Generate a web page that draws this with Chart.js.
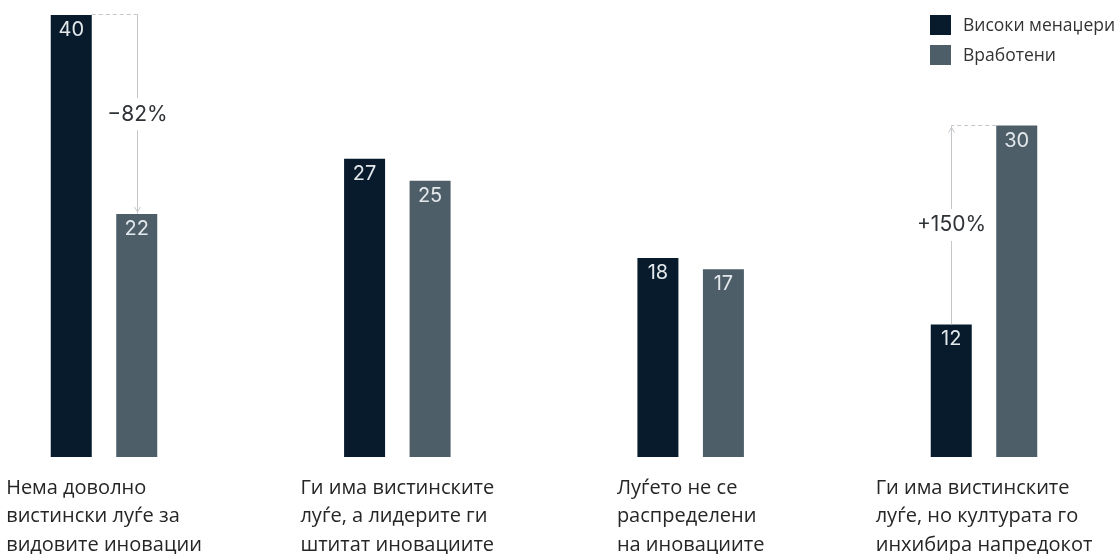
<!DOCTYPE html>
<html>
<head>
<meta charset="utf-8">
<script src="https://cdn.jsdelivr.net/npm/chart.js@4.4.1/dist/chart.umd.min.js"></script>
<style>
  html, body { margin: 0; padding: 0; background: #ffffff; }
  #wrap { width: 1118px; height: 554px; position: relative; }
</style>
</head>
<body>
<div id="wrap"><canvas id="c"></canvas></div>
<script>
// ---- data ----
const categories = [
  ['Нема доволно', 'вистински луѓе за', 'видовите иновации'],
  ['Ги има вистинските', 'луѓе, а лидерите ги', 'штитат иновациите'],
  ['Луѓето не се', 'распределени', 'на иновациите'],
  ['Ги има вистинските', 'луѓе, но културата го', 'инхибира напредокот']
];
const seriesNames = ['Високи менаџери', 'Вработени'];
const seniorManagers = [40, 27, 18, 12];
const employees = [22, 25, 17, 30];
const changeNoteCategories = [0, 3];
const changeNoteTexts = ['−82%', '+150%'];

const COLORS = ['#071b2c', '#4e5e69'];
const NUM_FONT = '"Inter", "Liberation Sans", Arial, sans-serif';
const TEXT_FONT = '"Open Sans", "Noto Sans", sans-serif';

// value labels inside bars, annotations, category labels, legend
const decorPlugin = {
  id: 'decor',
  afterDatasetsDraw(chart) {
    const ctx = chart.ctx;
    const metas = [chart.getDatasetMeta(0), chart.getDatasetMeta(1)];
    ctx.save();

    // value labels
    ctx.font = '400 20px ' + NUM_FONT;
    ctx.fillStyle = '#e3e8ec';
    ctx.textAlign = 'center';
    ctx.textBaseline = 'middle';
    metas.forEach((meta, di) => {
      meta.data.forEach((bar, i) => {
        const v = chart.data.datasets[di].data[i];
        ctx.fillText(String(v), bar.x, bar.y + 15);
      });
    });

    // change annotations
    changeNoteCategories.forEach((ci, k) => {
      const a = metas[0].data[ci];
      const b = metas[1].data[ci];
      const va = chart.data.datasets[0].data[ci];
      const vb = chart.data.datasets[1].data[ci];
      const high = va >= vb ? a : b;
      const low = va >= vb ? b : a;
      const lineX = Math.round(low.x) + 0.5;
      const topY = Math.round(high.y) - 0.5;
      const botY = low.y;
      const targetY = b.y; // arrow points to employees' value
      const edgeX = high.x < low.x ? high.x + high.width / 2 : high.x - high.width / 2;

      ctx.strokeStyle = '#c4c7ca';
      ctx.lineWidth = 1;
      // dashed connector
      ctx.setLineDash([4, 3]);
      ctx.beginPath();
      ctx.moveTo(edgeX, topY);
      ctx.lineTo(lineX, topY);
      ctx.stroke();
      ctx.setLineDash([]);

      const midY = (topY + botY) / 2;
      const gap = 16;
      ctx.beginPath();
      ctx.moveTo(lineX, topY);
      ctx.lineTo(lineX, midY - gap);
      ctx.moveTo(lineX, midY + gap);
      ctx.lineTo(lineX, botY);
      ctx.stroke();

      // arrow head
      const dir = targetY > midY ? 1 : -1;
      const tipY = targetY - dir * 2;
      ctx.beginPath();
      ctx.moveTo(lineX - 3, tipY - dir * 5);
      ctx.lineTo(lineX, tipY);
      ctx.lineTo(lineX + 3, tipY - dir * 5);
      ctx.stroke();

      ctx.font = '400 21px ' + NUM_FONT;
      ctx.fillStyle = '#2e3236';
      ctx.textAlign = 'center';
      ctx.textBaseline = 'middle';
      ctx.fillText(changeNoteTexts[k], lineX, midY);
    });

    // category labels (left-aligned blocks, centred under each group)
    const xs = chart.scales.x;
    ctx.font = '400 20px ' + TEXT_FONT;
    ctx.fillStyle = '#262626';
    ctx.textAlign = 'left';
    ctx.textBaseline = 'middle';
    const firstLineY = chart.chartArea.bottom + 31;
    categories.forEach((lines, i) => {
      const cx = xs.getPixelForValue(i);
      const w = Math.max(...lines.map(l => ctx.measureText(l).width));
      const left = cx - w / 2;
      lines.forEach((l, j) => ctx.fillText(l, left, firstLineY + j * 28.5));
    });

    // legend
    ctx.font = '400 17.5px ' + TEXT_FONT;
    ctx.textBaseline = 'middle';
    const lx = chart.width - 188;
    seriesNames.forEach((name, i) => {
      const y = 15 + i * 30;
      ctx.fillStyle = COLORS[i];
      ctx.fillRect(lx, y, 21, 20);
      ctx.fillStyle = '#333333';
      ctx.fillText(name, lx + 33, y + 11);
    });

    ctx.restore();
  }
};

new Chart(document.getElementById('c'), {
  type: 'bar',
  data: {
    labels: categories,
    datasets: [
      { label: seriesNames[0], data: seniorManagers, backgroundColor: COLORS[0], borderWidth: 0, clip: false },
      { label: seriesNames[1], data: employees, backgroundColor: COLORS[1], borderWidth: 0, clip: false }
    ]
  },
  options: {
    responsive: true,
    maintainAspectRatio: false,
    animation: false,
    layout: { padding: { left: 104, right: 134, top: 15, bottom: 97 } },
    categoryPercentage: 0.4466,
    barPercentage: 0.626,
    plugins: { legend: { display: false }, tooltip: { enabled: false } },
    scales: {
      x: { type: 'category', offset: false, display: false, grid: { display: false } },
      y: { min: 0, max: 40, display: false, grid: { display: false } }
    }
  },
  plugins: [decorPlugin]
});
</script>
</body>
</html>
